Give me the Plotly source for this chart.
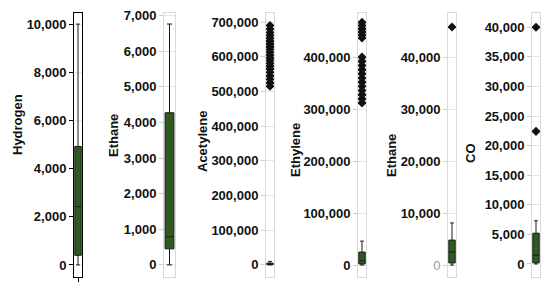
import plotly.graph_objects as go

# ---- data ----
names = ["Hydrogen", "Ethane", "Acetylene", "Ethylene", "Ethane", "CO"]
q1 = [400, 450, 500, 2000, 400, 200]
medians = [2420, 790, 2000, 8000, 2500, 1500]
q3 = [4920, 4270, 5000, 25000, 4800, 5200]
lower_fence = [0, 0, 0, 0, 0, 0]
upper_fence = [10000, 6760, 10000, 46000, 8100, 7300]

outliers_hydrogen = []
outliers_ethane = []
outliers_acetylene = [515000, 525000, 535000, 545000, 555000, 565000, 573000, 581000,
                      589000, 597000, 605000, 613000, 621000, 629000, 637000, 645000,
                      653000, 661000, 670000, 680000, 690000]
outliers_ethylene = [312000, 320000, 328000, 336000, 344000, 352000, 360000, 368000,
                     376000, 384000, 392000, 400000, 437000, 443000, 449000, 455000,
                     461000, 467000]
outliers_ethane2 = [45800]
outliers_co = [40000, 22400]
outliers = [outliers_hydrogen, outliers_ethane, outliers_acetylene,
            outliers_ethylene, outliers_ethane2, outliers_co]

tick_steps = [2000, 1000, 100000, 100000, 10000, 5000]
tick_max = [10000, 7000, 700000, 400000, 40000, 40000]
y_ranges = [[-500, 10460], [-340, 7070], [-35000, 726000], [-23000, 485000],
            [-2300, 48500], [-2200, 42400]]

# ---- layout geometry (pixels) ----
W, H = 550, 293
panel_px = [(74, 82), (164, 175), (266, 274), (358, 366), (448, 456), (532, 540)]
title_px = [(17, 125), (113, 136), (202, 142), (295, 150), (391, 156), (470, 153)]
frame_colors = ["#000000", "#d9d9d9", "#d9d9d9", "#d9d9d9", "#d9d9d9", "#d9d9d9"]
top_px, bottom_px = 13, 277

fig = go.Figure()
box_fill = "#2f5a1f"
for i in range(6):
    ax = "" if i == 0 else str(i + 1)
    fig.add_trace(go.Box(
        x=[0], q1=[q1[i]], median=[medians[i]], q3=[q3[i]],
        lowerfence=[lower_fence[i]], upperfence=[upper_fence[i]],
        fillcolor=box_fill, line=dict(color="#1a1a1a", width=1),
        whiskerwidth=0.6, width=0.8, boxpoints=False,
        xaxis="x" + ax, yaxis="y" + ax, showlegend=False, hoverinfo="skip"))
    if outliers[i]:
        fig.add_trace(go.Scatter(
            x=[0] * len(outliers[i]), y=outliers[i], mode="markers",
            marker=dict(symbol="diamond", size=7, color="#111111"),
            xaxis="x" + ax, yaxis="y" + ax, showlegend=False, hoverinfo="skip"))

    vals = list(range(0, tick_max[i] + 1, tick_steps[i]))
    texts = [f"<b>{v:,}</b>" for v in vals]
    if i == 4:
        texts[0] = "<span style='color:#999999'>0</span>"
    x0, x1 = panel_px[i]
    fig.layout["xaxis" + ax] = dict(
        domain=[x0 / W, x1 / W], range=[-0.5, 0.5], showticklabels=False,
        showgrid=False, zeroline=False, showline=True, mirror=True,
        linecolor=frame_colors[i], linewidth=1, automargin=False,
        ticks="outside" if i == 0 else "", tickvals=[0], ticklen=4,
        tickcolor="#000000", fixedrange=True)
    fig.layout["yaxis" + ax] = dict(
        domain=[1 - bottom_px / H, 1 - top_px / H], range=y_ranges[i],
        anchor="x" + ax, tickvals=vals, ticktext=texts, automargin=False,
        tickfont=dict(family="Liberation Sans, Arial", size=13, color="#111111"),
        ticks="outside", ticklen=4, tickcolor="#000000" if i == 0 else "#cccccc",
        showgrid=True, gridcolor="#e6e6e6", zeroline=False,
        showline=True, mirror=True, linecolor=frame_colors[i], linewidth=1,
        fixedrange=True)
    tx, ty = title_px[i]
    fig.add_annotation(
        text="<b>" + names[i] + "</b>", textangle=-90, showarrow=False,
        xref="paper", yref="paper", x=tx / W, y=1 - ty / H,
        xanchor="center", yanchor="middle",
        font=dict(family="Liberation Sans, Arial", size=13, color="#111111"))

fig.update_layout(width=W, height=H, margin=dict(l=0, r=0, t=0, b=0),
                  paper_bgcolor="white", plot_bgcolor="white")
fig.write_html("out.html", config={"displayModeBar": False},
               post_script="document.body.style.margin='0';")
